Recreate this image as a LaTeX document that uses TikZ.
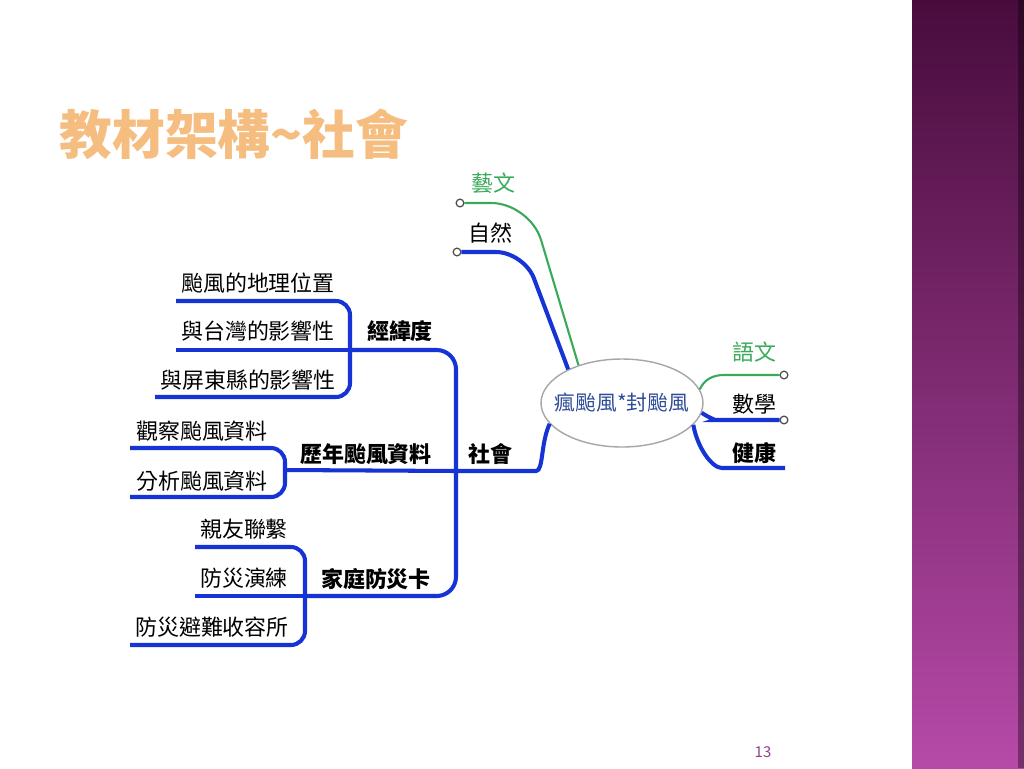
\documentclass[tikz,border=0pt]{standalone}
\usepackage{fontspec}
\setmainfont{Noto Sans CJK TC}
\usetikzlibrary{shapes.geometric}
\definecolor{mmblue}{RGB}{22,52,214}
\definecolor{mmgreen}{RGB}{56,170,90}
\definecolor{hubtext}{RGB}{45,75,150}
\definecolor{titleorange}{RGB}{245,190,128}
\definecolor{paneltop}{RGB}{72,12,60}
\definecolor{panelbot}{RGB}{182,74,168}
\definecolor{pagenum}{RGB}{150,60,140}

\begin{document}
\begin{tikzpicture}[x=0.02cm,y=-0.02cm]
\tikzstyle{every node}+=[inner sep=0pt]
\tikzstyle{leaf}=[font=\fontsize{12.5}{14}\selectfont]
\tikzstyle{topic}=[font=\fontsize{12.5}{14}\selectfont\bfseries]
\tikzstyle{bline}=[mmblue, line width=2.3pt, rounded corners=8pt]
\tikzstyle{gline}=[mmgreen, line width=1.2pt]
\tikzstyle{knob}=[draw=black!70, fill=white, line width=0.7pt, circle, minimum size=4.4pt]
\useasboundingbox (0,0) rectangle (1024,768);
\fill [white] (0,0) rectangle (1024,768);
\shade [top color=paneltop, bottom color=panelbot] (912,0) rectangle (1024,768);
\fill [black, opacity=0.35] (1018,0) rectangle (1024,768);
\node [font=\fontsize{30}{33}\selectfont\bfseries, text=titleorange] (title) at (234,134) {教材架構\textasciitilde 社會};
\node [font=\fontsize{8.5}{10}\selectfont, text=pagenum] (pg) at (763,752) {13};
\node [ellipse, draw=gray!70, fill=white, line width=0.8pt, minimum width=3.24cm, minimum height=1.76cm,
  font=\fontsize{11.8}{13}\selectfont, text=hubtext] (hub) at (622,403) {\makebox[0pt]{瘋颱風*封颱風}};
\node [leaf, text=mmgreen] (art) at (493,183) {藝文};
\node [leaf] (sci) at (490,233) {自然};
\node [leaf, text=mmgreen] (chi) at (754,352) {語文};
\node [leaf] (math) at (754,404) {數學};
\node [topic] (hlth) at (754,453) {健康};
\node [topic] (soc) at (490,454) {社會};
\node [topic] (geo) at (400,331) {經緯度};
\node [topic] (hist) at (366,454) {歷年颱風資料};
\node [topic] (card) at (376,579) {家庭防災卡};
\node [leaf] (g1) at (258,283) {颱風的地理位置};
\node [leaf] (g2) at (258,331) {與台灣的影響性};
\node [leaf] (g3) at (248,380) {與屏東縣的影響性};
\node [leaf] (h1) at (202,431) {觀察颱風資料};
\node [leaf] (h2) at (202,481) {分析颱風資料};
\node [leaf] (c1) at (244,529) {親友聯繫};
\node [leaf] (c2) at (244,578) {防災演練};
\node [leaf] (c3) at (212,627) {防災避難收容所};
\node [knob] (kart) at (460,203) {};
\node [knob] (ksci) at (457,252) {};
\node [knob] (kchi) at (784,375) {};
\node [knob] (kmath) at (784,420) {};
\coordinate (ehlth) at (785,468);
\coordinate (jS) at (456,471);
\coordinate (j1) at (350,350);
\coordinate (j2) at (285,470);
\coordinate (j3) at (305,596);
\coordinate (eg1) at (176,301);
\coordinate (eg2) at (176,350);
\coordinate (eg3) at (155,397);
\coordinate (eh1) at (130,448);
\coordinate (eh2) at (130,497);
\coordinate (ec1) at (195,547);
\coordinate (ec2) at (195,596);
\coordinate (ec3) at (130,645);
\draw [gline, rounded corners=22pt] (kart) -- (530,203) -- (hub.139);
\draw [bline, rounded corners=16pt] (ksci) -- (524,252) -- (hub.148);
\draw [gline] (hub.10) to[out=65,in=180] (724,375) -- (kchi);
\draw [bline] (hub.-7) to[out=-35,in=180] (728,420) -- (kmath);
\draw [bline] (hub.-17) to[out=-80,in=180] (736,468) -- (ehlth);
\draw [bline] (jS) -- (522,471) to[out=0,in=245] (hub.196);
\draw [bline, rounded corners=11pt] (j1) -| (jS);
\draw [bline] (j2) -- (jS);
\draw [bline, rounded corners=11pt] (j3) -| (jS);
\draw [bline] (eg1) -| (j1);
\draw [bline] (eg2) -- (j1);
\draw [bline] (eg3) -| (j1);
\draw [bline] (eh1) -| (j2);
\draw [bline] (eh2) -| (j2);
\draw [bline] (ec1) -| (j3);
\draw [bline] (ec2) -- (j3);
\draw [bline] (ec3) -| (j3);
\end{tikzpicture}
\end{document}
